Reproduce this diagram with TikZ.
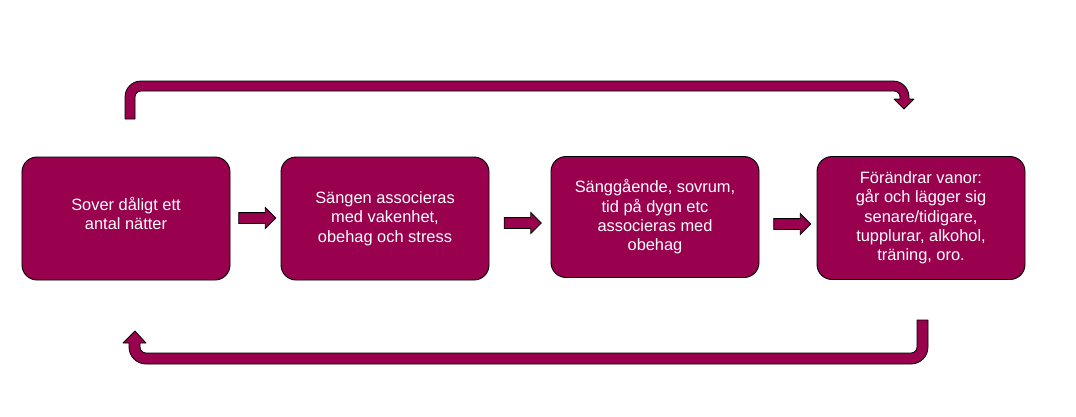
\documentclass[tikz,border=0pt]{standalone}
\usepackage{fontspec}
\setmainfont{Liberation Sans}
\usetikzlibrary{shapes.arrows,calc}
\definecolor{berry}{RGB}{153,0,77}
\tikzset{
  stepbox/.style={draw=black, line width=0.9bp, fill=berry, rounded corners=15bp,
    minimum width=208bp, minimum height=123bp, inner sep=0pt, align=center,
    text=white, font=\fontsize{16.4bp}{19.3bp}\selectfont},
  smallarrow/.style={single arrow, draw=black, fill=berry, line width=0.8bp,
    minimum height=37bp, minimum width=20bp, single arrow head extend=5bp,
    inner xsep=0pt, inner ysep=5bp, outer sep=0pt},
  bigarrow/.style={draw=black, fill=berry, line width=0.8bp, line join=round}
}
\begin{document}
\begin{tikzpicture}[x=1bp,y=1bp]
\useasboundingbox (0,0) rectangle (1076,-416);
\fill[white] (0,0) rectangle (1076,-416);

\node[stepbox, text depth=10bp] (b1) at (126,-218.5) {Sover dåligt ett\\antal nätter};
\node[stepbox] (b2) at (385,-218.5) {Sängen associeras\\med vakenhet,\\obehag och stress};
\node[stepbox, minimum height=121bp] (b3) at (655,-217) {Sänggående, sovrum,\\tid på dygn etc\\associeras med\\obehag};
\node[stepbox] (b4) at (921,-218) {Förändrar vanor:\\går och lägger sig\\senare/tidigare,\\tupplurar, alkohol,\\träning, oro.};

\node[smallarrow] (a1) at (254.5,-218) {};
\node[smallarrow] (a2) at (520,-223) {};
\node[smallarrow] (a3) at (789.5,-224) {};

% top return arrow
\draw[bigarrow] (125,-119) -- (125,-97) arc[start angle=180,end angle=90,radius=16bp]
  -- (893,-81) arc[start angle=90,end angle=0,radius=16bp]
  -- (909,-99) -- (914,-99) -- (904,-109) -- (894,-99) -- (900,-99)
  -- (900,-97) arc[start angle=0,end angle=90,radius=6bp]
  -- (141,-91) arc[start angle=90,end angle=180,radius=6bp]
  -- (135,-119) -- cycle;

% bottom return arrow
\draw[bigarrow] (135,-331) -- (146,-343) -- (140,-343)
  -- (140,-347) arc[start angle=180,end angle=270,radius=6bp]
  -- (911,-353) arc[start angle=270,end angle=360,radius=6bp]
  -- (917,-320) -- (928,-320)
  -- (928,-347) arc[start angle=0,end angle=-90,radius=17bp]
  -- (146,-364) arc[start angle=270,end angle=180,radius=17bp]
  -- (129,-343) -- (123,-343) -- cycle;
\end{tikzpicture}
\end{document}
